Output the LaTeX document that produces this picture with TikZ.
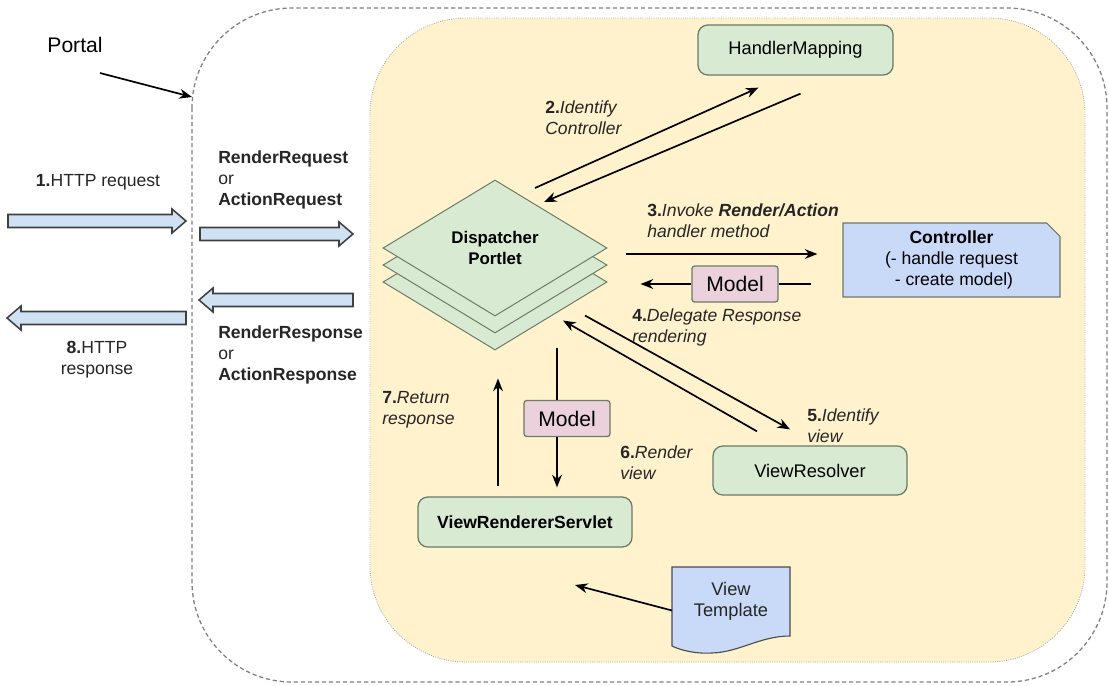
\documentclass[tikz,border=0pt]{standalone}
\usepackage{fontspec}
\setmainfont{Liberation Sans}
\usetikzlibrary{shapes.geometric, shapes.misc, calc, arrows.meta}

\definecolor{bgyellow}{HTML}{FFF2CC}
\definecolor{boxgreen}{HTML}{D9EAD3}
\definecolor{boxline}{HTML}{6B7B66}
\definecolor{boxblue}{HTML}{C9DAF8}
\definecolor{boxpink}{HTML}{EAD1DC}
\definecolor{arrowblue}{HTML}{CFE2F3}

\tikzset{
    lbl/.style={font=\fontsize{12.5}{15}\selectfont, align=left, anchor=west, inner sep=0pt, text=black!85},
    greenbox/.style={draw=boxline, fill=boxgreen, rounded corners=7pt, line width=0.9pt, inner sep=0pt, font=\fontsize{13}{15}\selectfont},
    modelbox/.style={draw=boxline, fill=boxpink, rounded corners=2pt, line width=0.9pt, minimum width=2.15cm, minimum height=0.9cm, inner sep=0pt, font=\fontsize{15}{17}\selectfont},
    dispbox/.style={diamond, draw=boxline, fill=boxgreen, line width=0.7pt, minimum width=5.6cm, minimum height=3.4cm, inner sep=0pt, align=center, font=\fontsize{12}{15}\selectfont\bfseries},
    conn/.style={->, line width=1.2pt},
    fatarr/.style={draw=black!75, fill=arrowblue, line width=1.1pt}
}

% block arrow: tail x, tip x, y
\newcommand{\fatarrow}[3]{%
    \pgfmathsetmacro\hb{#2-14*sign(#2-#1)}
    \draw[fatarr] (#1,#3-6.5) -- (\hb,#3-6.5) -- (\hb,#3-12) -- (#2,#3)
        -- (\hb,#3+12) -- (\hb,#3+6.5) -- (#1,#3+6.5) -- cycle;
}

\begin{document}
\begin{tikzpicture}[x=0.025cm, y=-0.025cm, >={Stealth[length=9pt,width=7pt]}]
    \useasboundingbox (0,0) rectangle (1109,685);

    % portal and portlet container
    \draw[gray, line width=0.9pt, dash pattern=on 3pt off 2pt, rounded corners=2.5cm] (192,8) rectangle (1107,682);
    \draw[fill=bgyellow, draw=gray!70, densely dotted, line width=0.6pt, rounded corners=2.4cm] (370,18) rectangle (1085,662);

    \node[font=\fontsize{15}{17}\selectfont, inner sep=0pt] (portal) at (75,45) {Portal};
    \coordinate (portaltip) at (192,97);
    \draw[conn] ($(portal.south)+(25,20)$) -- (portaltip);

    % request / response arrows
    \fatarrow{8}{186}{221}
    \fatarrow{200}{353}{234}
    \fatarrow{353}{199}{300}
    \fatarrow{186}{7}{318}

    \node[lbl, anchor=center] (httpreq) at (98,182) {\textbf{1.}HTTP request};
    \node[lbl] (req) at (218,180) {\textbf{RenderRequest}\\or\\\textbf{ActionRequest}};
    \node[lbl] (resp) at (218,355) {\textbf{RenderResponse}\\or\\\textbf{ActionResponse}};
    \node[lbl, anchor=center, align=center] (httpresp) at (97,360) {\textbf{8.}HTTP\\response};

    % nodes
    \node[dispbox] (d3) at (495,282) {};
    \node[dispbox] (d2) at (495,265) {};
    \node[dispbox] (disp) at (495,248) {Dispatcher\\Portlet};

    \node[greenbox, minimum width=4.875cm, minimum height=1.25cm] (hm) at (795.5,50) {HandlerMapping};
    \node[chamfered rectangle, chamfered rectangle corners=north east, chamfered rectangle xsep=6pt,
          draw=boxline, fill=boxblue, line width=0.8pt, minimum width=5.425cm, minimum height=1.85cm,
          inner sep=0pt, align=center, font=\fontsize{12.5}{15}\selectfont] (ctrl) at (951.5,260)
          {\textbf{Controller}\\(- handle request\\\ - create model)};
    \node[modelbox] (m1) at (735,284) {Model};
    \node[greenbox, minimum width=4.85cm, minimum height=1.225cm] (vr) at (810,470.5) {ViewResolver};
    \node[modelbox] (m2) at (567,418.5) {Model};
    \node[greenbox, minimum width=5.35cm, minimum height=1.25cm, font=\fontsize{12.5}{15}\selectfont\bfseries] (vrs) at (525,522) {ViewRendererServlet};

    % view template document
    \coordinate (vtnw) at (672,567);
    \coordinate (vtse) at (790,636);
    \draw[draw=black!70, fill=boxblue, line width=0.8pt] (vtnw) -- (vtnw -| vtse) -- (vtse)
        .. controls +(-30,0) and +(28,-1) .. (712,653)
        .. controls +(-17,1) and +(8,4) .. (672,646) -- cycle;
    \node[lbl, anchor=center, align=center, font=\fontsize{13}{15}\selectfont] (vt) at ($(vtnw)!0.5!(vtse)$) {View\\Template};

    % connectors
    \draw[conn] ($(disp)+(40,-60)$) -- ($(hm.south)+(-37,12)$);
    \draw[conn] ($(hm.south)+(5,18)$) -- ($(disp)+(49,-46)$);
    \draw[conn] ($(disp.east)+(18,6)$) -- ($(ctrl.west)+(-25,-6)$);
    \draw[line width=1.2pt] ($(ctrl.west)+(-31,24)$) -- (m1.east);
    \draw[conn] (m1.west) -- ($(disp.east)+(33,36)$);
    \draw[conn] ($(disp.south)+(90,-1)$) -- ($(vr.north)+(-20,-16)$);
    \draw[conn] ($(vr.north)+(-53,-14)$) -- ($(disp.south)+(68,4)$);
    \coordinate (rv) at ($(disp.south)+(62,31)$);
    \draw[line width=1.2pt] (rv) -- (rv |- m2.north);
    \draw[conn] (rv |- m2.south) -- ($(rv |- vrs.north)+(0,-9)$);
    \draw[conn] ($(vrs.north)+(-27,-10)$) -- ($(d3.south)+(3,28)$);
    \coordinate (vtend) at (575,585);
    \draw[conn] ($(vtnw |- vt.west)+(0,9)$) -- (vtend);

    % step labels
    \node[lbl] (l2) at (545,118) {\textbf{2.}\textit{Identify}\\\textit{Controller}};
    \node[lbl] (l3) at (647,221) {\textbf{3.}\textit{Invoke \textbf{Render/Action}}\\\textit{handler method}};
    \node[lbl] (l4) at (632,327) {\textbf{4.}\textit{Delegate Response}\\\textit{rendering}};
    \node[lbl] (l5) at (807,426) {\textbf{5.}\textit{Identify}\\\textit{view}};
    \node[lbl] (l6) at (620,463) {\textbf{6.}\textit{Render}\\\textit{view}};
    \node[lbl] (l7) at (382,410) {\textbf{7.}\textit{Return}\\\textit{response}};
\end{tikzpicture}
\end{document}
